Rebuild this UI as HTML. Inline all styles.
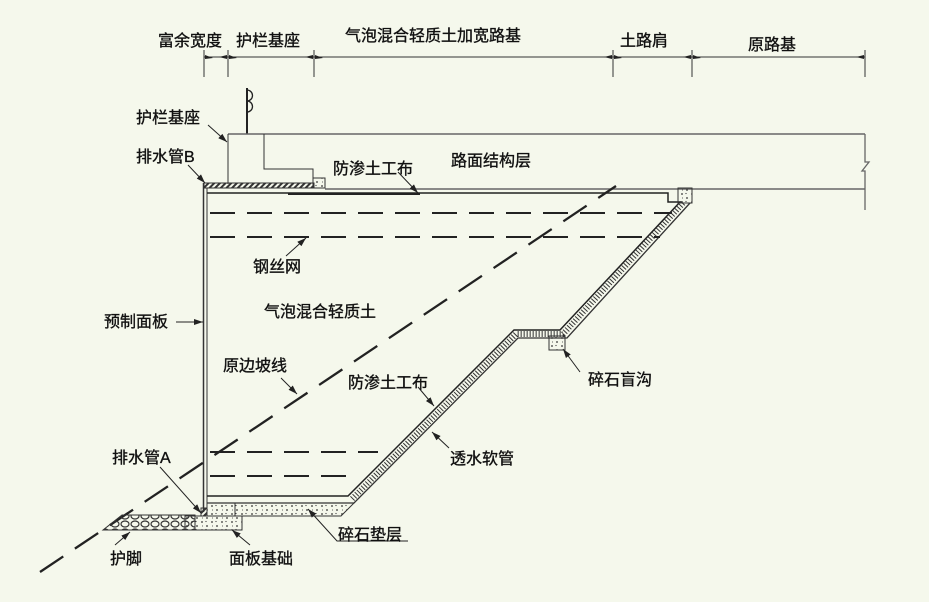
<!DOCTYPE html>
<html><head><meta charset="utf-8"><style>
html,body{margin:0;padding:0;background:#f5f8ec;}
svg{display:block}
text{font-family:"Liberation Sans","Noto Sans CJK SC",sans-serif;font-size:16px;fill:#111;stroke:#111;stroke-width:0.35}
</style></head><body>
<svg width="929" height="602" viewBox="0 0 929 602" xmlns="http://www.w3.org/2000/svg">
<defs>
<marker id="ar" markerWidth="10" markerHeight="8" refX="9" refY="4" orient="auto" markerUnits="userSpaceOnUse">
<path d="M0,1 L9,4 L0,7 Z" fill="#222"/></marker>
<pattern id="grv" width="10" height="8" patternUnits="userSpaceOnUse">
<circle cx="2" cy="2" r="0.9" fill="#333"/><circle cx="7" cy="6" r="0.9" fill="#333"/><circle cx="6" cy="1.5" r="0.6" fill="#333"/><circle cx="2.5" cy="6" r="0.5" fill="#333"/></pattern>
<pattern id="hex" width="10" height="8" patternUnits="userSpaceOnUse">
<ellipse cx="5" cy="4" rx="4" ry="3" fill="none" stroke="#333" stroke-width="1.2"/></pattern>
<pattern id="hs" width="4" height="4" patternUnits="userSpaceOnUse" patternTransform="rotate(45)">
<rect width="2" height="4" fill="#333"/></pattern>
</defs>
<g stroke="#333" fill="none" stroke-width="1">
<line x1="204" y1="57" x2="865" y2="57"/>
<g><line x1="204" y1="50" x2="204" y2="77"/><line x1="228" y1="50" x2="228" y2="77"/><line x1="314" y1="50" x2="314" y2="77"/><line x1="613" y1="50" x2="613" y2="77"/><line x1="692" y1="50" x2="692" y2="77"/><line x1="865" y1="50" x2="865" y2="77"/></g>
<g fill="#222" stroke="none">
<path d="M205,55 L213,58 L205,59Z"/><path d="M227,55 L219,57 L227,59Z"/><path d="M229,55 L237,58 L229,59Z"/>
<path d="M313,55 L305,57 L313,59Z"/><path d="M315,55 L323,58 L315,59Z"/><path d="M612,55 L604,57 L612,59Z"/>
<path d="M614,55 L622,58 L614,59Z"/><path d="M691,55 L683,57 L691,59Z"/><path d="M693,55 L701,58 L693,59Z"/><path d="M864,55 L856,57 L864,59Z"/></g>
<line x1="247" y1="88" x2="247" y2="134" stroke-width="2" stroke="#222"/>
<path d="M247,90 A5,5 0 0 1 247,101 A5,5 0 0 1 247,112" stroke="#222" stroke-width="1.3"/>
<line x1="228" y1="134" x2="865" y2="134" stroke="#666" stroke-width="1.5"/>
<line x1="325" y1="189" x2="865" y2="189" stroke="#666" stroke-width="1.5"/>
<path d="M865,134 L865,162 L869,162 L862,171 L865,171 L865,210" stroke="#666" stroke-width="1.3"/>
<path d="M228,134 L228,184 M264,134 L264,169 L313,169 L313,184"/>
<rect x="313" y="178" width="12" height="10" fill="url(#grv)"/>
<rect x="204" y="183" width="110" height="5" fill="url(#hs)"/>
<line x1="203.5" y1="183" x2="203.5" y2="512" stroke-width="1.5"/>
<line x1="207" y1="188" x2="207" y2="503"/>
<path d="M207,193 L668,193 L668,202 L680,202 L560,330 L514,330 L348,496 L207,496" stroke-width="1.5" stroke="#222"/>
<path d="M683,203 L563,334 L516,334 L352,499" stroke="#333" stroke-width="6" stroke-dasharray="1 2"/>
<path d="M690,203 L567,338 L518,338 L354,503 L207,503" stroke-width="1.3"/>
<rect x="678" y="188" width="14" height="15" fill="url(#grv)"/>
<rect x="549" y="336" width="16" height="14" fill="url(#grv)"/>
<line x1="288" y1="194" x2="420" y2="194" stroke="#222" stroke-width="2"/>
<g stroke="#222" stroke-width="2" stroke-dasharray="25 12">
<line x1="210" y1="213" x2="672" y2="213"/>
<line x1="210" y1="237" x2="660" y2="237"/>
<line x1="210" y1="452" x2="378" y2="452"/>
<line x1="210" y1="476" x2="356" y2="476"/>
</g>
<line x1="40" y1="572" x2="616" y2="186" stroke="#222" stroke-width="2.3" stroke-dasharray="28 14"/>
<path d="M207,503 L354,503 L341,516 L207,516 Z" fill="url(#grv)" stroke-width="1"/>
<rect x="185" y="516" width="57" height="14" fill="url(#grv)"/>
<line x1="235" y1="503" x2="235" y2="516"/>
<path d="M103,530 L122,515 L195,515 L195,530 Z" fill="url(#hex)"/>
<rect x="201" y="508" width="6" height="8" fill="url(#hs)"/>
<g stroke="#222" stroke-width="1">
<line x1="208" y1="125" x2="227" y2="142" marker-end="url(#ar)"/>
<line x1="188" y1="165" x2="205" y2="183" marker-end="url(#ar)"/>
<line x1="398" y1="172" x2="418" y2="193" marker-end="url(#ar)"/>
<line x1="286" y1="256" x2="306" y2="238" marker-end="url(#ar)"/>
<line x1="176" y1="322" x2="203" y2="322" marker-end="url(#ar)"/>
<line x1="281" y1="378" x2="297" y2="394" marker-end="url(#ar)"/>
<line x1="418" y1="387" x2="434" y2="406" marker-end="url(#ar)"/>
<line x1="449" y1="448" x2="432" y2="432" marker-end="url(#ar)"/>
<line x1="580" y1="372" x2="563" y2="349" marker-end="url(#ar)"/>
<line x1="160" y1="467" x2="201" y2="513" marker-end="url(#ar)"/>
<line x1="115" y1="545" x2="130" y2="532" marker-end="url(#ar)"/>
<line x1="250" y1="545" x2="232" y2="530" marker-end="url(#ar)"/>
<path d="M408,541 L337,541 L308,509" marker-end="url(#ar)"/>
</g>
</g>
<text x="158" y="46">富余宽度</text>
<text x="236" y="46">护栏基座</text>
<text x="345" y="41">气泡混合轻质土加宽路基</text>
<text x="620" y="46">土路肩</text>
<text x="748" y="50">原路基</text>
<text x="136" y="123">护栏基座</text>
<text x="136" y="162">排水管B</text>
<text x="333" y="174">防渗土工布</text>
<text x="451" y="166">路面结构层</text>
<text x="253" y="272">钢丝网</text>
<text x="104" y="327">预制面板</text>
<text x="264" y="317">气泡混合轻质土</text>
<text x="223" y="371">原边坡线</text>
<text x="348" y="388">防渗土工布</text>
<text x="588" y="385">碎石盲沟</text>
<text x="450" y="464">透水软管</text>
<text x="112" y="463">排水管A</text>
<text x="338" y="540">碎石垫层</text>
<text x="110" y="564">护脚</text>
<text x="229" y="564">面板基础</text>
</svg>
</body></html>
